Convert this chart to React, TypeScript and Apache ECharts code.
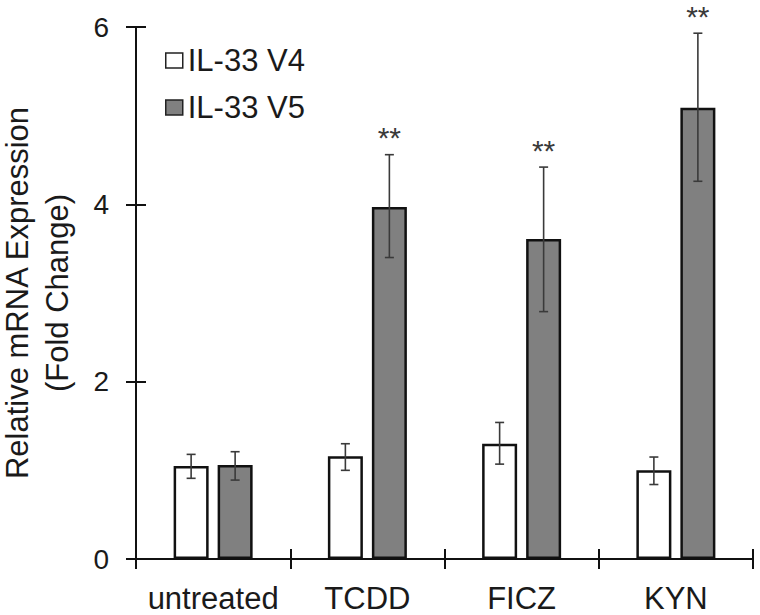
import React, { useEffect, useRef } from "react";
import * as echarts from "echarts";

const categories = ["untreated", "TCDD", "FICZ", "KYN"];
const legendNames = ["IL-33 V4", "IL-33 V5"];
const v4Mean = [1.05, 1.16, 1.3, 1.0];
const v4Low = [0.91, 1.0, 1.07, 0.84];
const v4High = [1.18, 1.3, 1.54, 1.15];
const v5Mean = [1.06, 3.97, 3.61, 5.09];
const v5Low = [0.89, 3.4, 2.79, 4.26];
const v5High = [1.21, 4.56, 4.42, 5.93];
const v5Sig = ["", "**", "**", "**"];
const yTicks = [0, 2, 4, 6];

const FONT = "'Liberation Sans', Arial, sans-serif";
const BAR_W = 35;
const BAR_GAP = 9;
const OFFSET = (BAR_W + BAR_GAP) / 2;

function errorSeries(name: string, low: number[], high: number[], offset: number, sig: string[] | null) {
  return {
    type: "custom",
    name,
    xAxisIndex: 0,
    yAxisIndex: 0,
    z: 5,
    silent: true,
    data: categories.map((_, i) => [i, low[i], high[i]]),
    encode: { x: 0, y: [1, 2] },
    renderItem: (params: any, api: any) => {
      const i = api.value(0);
      const lo = api.value(1);
      const hi = api.value(2);
      const pHi = api.coord([i, hi]);
      const pLo = api.coord([i, lo]);
      const x = pHi[0] + offset;
      const cap = 4.5;
      const st = { stroke: "#3a3a3a", lineWidth: 1.6 };
      const children: any[] = [
        { type: "line", shape: { x1: x, y1: pHi[1], x2: x, y2: pLo[1] }, style: st },
        { type: "line", shape: { x1: x - cap, y1: pHi[1], x2: x + cap, y2: pHi[1] }, style: st },
        { type: "line", shape: { x1: x - cap, y1: pLo[1], x2: x + cap, y2: pLo[1] }, style: st },
      ];
      if (sig && sig[i]) {
        children.push({
          type: "text",
          style: {
            text: sig[i],
            x,
            y: pHi[1] - 17,
            align: "center",
            verticalAlign: "middle",
            fontSize: 30,
            fontFamily: FONT,
            fill: "#3a3a3a",
          },
        });
      }
      return { type: "group", children };
    },
  };
}

export default function App() {
  const ref = useRef<HTMLDivElement>(null);
  useEffect(() => {
    if (!ref.current) return;
    const chart = echarts.init(ref.current, null, { renderer: "svg" });
    const axisColor = "#111";
    chart.setOption({
      animation: false,
      backgroundColor: "#fff",
      textStyle: { fontFamily: FONT },
      grid: { left: 136, right: 7, top: 27, bottom: 56, containLabel: false, outerBoundsMode: "none" },
      legend: {
        orient: "vertical",
        left: 160,
        top: 40,
        itemWidth: 17,
        itemHeight: 15,
        itemGap: 16,
        icon: "rect",
        textStyle: { fontSize: 31, color: "#1a1a1a", fontFamily: FONT },
        data: [
          { name: legendNames[0], itemStyle: { color: "#fff", borderColor: "#222", borderWidth: 1.5 } },
          { name: legendNames[1], itemStyle: { color: "#808080", borderColor: "#222", borderWidth: 1.5 } },
        ],
      },
      xAxis: [
        {
          type: "category",
          data: categories,
          position: "bottom",
          axisLine: { show: true, lineStyle: { color: axisColor, width: 2 } },
          axisTick: { show: true, inside: false, length: 10, lineStyle: { color: axisColor, width: 2 } },
          axisLabel: { interval: 0, margin: 24, fontSize: 31, color: "#1a1a1a", fontFamily: FONT, hideOverlap: false },
          splitLine: { show: false },
        },
        {
          type: "category",
          data: categories,
          position: "bottom",
          axisLine: { show: false },
          axisTick: { show: true, inside: true, length: 10, lineStyle: { color: axisColor, width: 2 } },
          axisLabel: { show: false },
          splitLine: { show: false },
        },
      ],
      yAxis: [
        {
          type: "value",
          min: yTicks[0],
          max: yTicks[yTicks.length - 1],
          interval: 2,
          position: "left",
          name: "Relative mRNA Expression\n(Fold Change)",
          nameLocation: "middle",
          nameRotate: 90,
          nameGap: 59,
          nameTextStyle: { fontSize: 31, lineHeight: 40, color: "#1a1a1a", fontFamily: FONT, align: "center" },
          axisLine: { show: true, lineStyle: { color: axisColor, width: 2 } },
          axisTick: { show: true, inside: false, length: 10, lineStyle: { color: axisColor, width: 2 } },
          axisLabel: { margin: 27, fontSize: 28, color: "#1a1a1a", fontFamily: FONT },
          splitLine: { show: false },
        },
        {
          type: "value",
          min: yTicks[0],
          max: yTicks[yTicks.length - 1],
          interval: 2,
          position: "left",
          axisLine: { show: false },
          axisTick: { show: true, inside: true, length: 10, lineStyle: { color: axisColor, width: 2 } },
          axisLabel: { show: false },
          splitLine: { show: false },
        },
      ],
      series: [
        {
          type: "bar",
          name: legendNames[0],
          data: v4Mean,
          barWidth: BAR_W,
          barGap: `${(BAR_GAP / BAR_W) * 100}%`,
          itemStyle: { color: "#fff", borderColor: "#111", borderWidth: 2.5 },
        },
        {
          type: "bar",
          name: legendNames[1],
          data: v5Mean,
          barWidth: BAR_W,
          itemStyle: { color: "#808080", borderColor: "#111", borderWidth: 2.5 },
        },
        errorSeries("V4 SD", v4Low, v4High, -OFFSET, null),
        errorSeries("V5 SD", v5Low, v5High, OFFSET, v5Sig),
      ],
    });
    return () => chart.dispose();
  }, []);
  return <div ref={ref} style={{ position: "fixed", left: 0, top: 0, width: 760, height: 615 }} />;
}
